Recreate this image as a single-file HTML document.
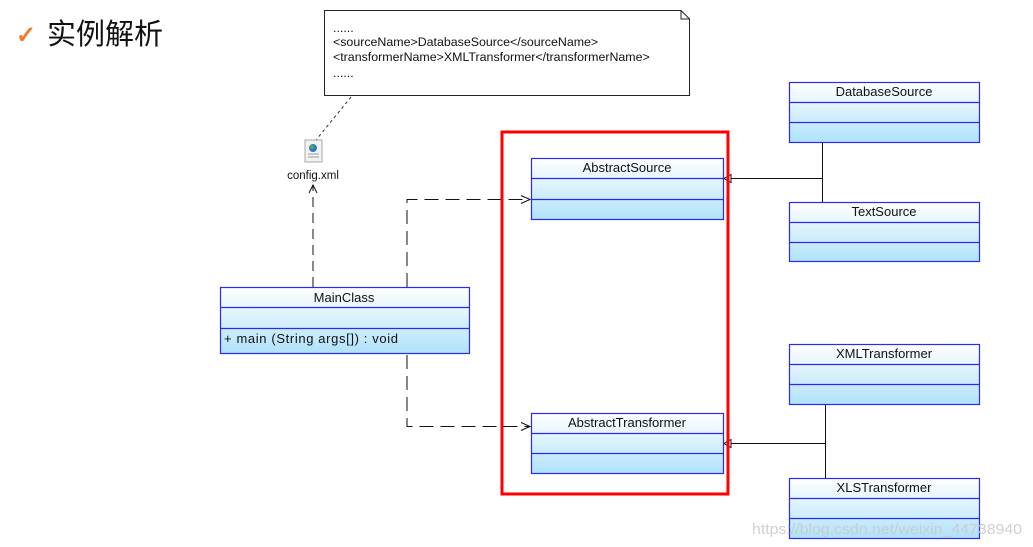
<!DOCTYPE html>
<html><head><meta charset="utf-8"><style>
html,body{margin:0;padding:0;background:#fff;}
svg{display:block;}
text{font-family:"Liberation Sans",Arial,sans-serif;}
</style></head><body>
<svg width="1033" height="547" viewBox="0 0 1033 547" xmlns="http://www.w3.org/2000/svg">
<defs>
<linearGradient id="g" x1="0" y1="0" x2="0" y2="1">
<stop offset="0" stop-color="#ffffff"/><stop offset="1" stop-color="#b0e2fa"/>
</linearGradient>
</defs>
<!-- title -->
<text x="16" y="43" font-size="24" font-weight="bold" fill="#f07a28" font-family="DejaVu Sans,sans-serif">✓</text>
<text x="47" y="44" font-size="29" fill="#111" style="font-family:'Liberation Sans','Noto Sans CJK SC',sans-serif">实例解析</text>

<!-- note -->
<path d="M324.5,10.5 H681 L689.5,19 V95.5 H324.5 Z" fill="#fff" stroke="#222" stroke-width="1"/>
<path d="M681,10.5 V19 H689.5" fill="none" stroke="#222" stroke-width="1"/>
<g font-size="12.4" fill="#111">
<text x="333" y="32">......</text>
<text x="333" y="46">&lt;sourceName&gt;DatabaseSource&lt;/sourceName&gt;</text>
<text x="333" y="61">&lt;transformerName&gt;XMLTransformer&lt;/transformerName&gt;</text>
<text x="333" y="77">......</text>
</g>
<line x1="351" y1="97" x2="316" y2="140" stroke="#333" stroke-dasharray="3,3"/>

<!-- xml icon -->
<rect x="305" y="140" width="17" height="22" fill="#f2f2f2" stroke="#aaa"/>
<circle cx="313" cy="148" r="4" fill="#2a7cc7"/>
<circle cx="312" cy="147" r="2" fill="#4caf50"/>
<line x1="308" y1="154" x2="319" y2="154" stroke="#999"/>
<line x1="308" y1="157" x2="319" y2="157" stroke="#999"/>
<text x="313" y="179" font-size="11.5" text-anchor="middle" fill="#111">config.xml</text>

<!-- dashed dependencies -->
<g stroke="#111" fill="none" stroke-width="1">
<line x1="313" y1="287" x2="313" y2="185" stroke-dasharray="10,6"/>
<path d="M309,193 L313,185 L317,193"/>
<path d="M407,287 V199.5 H530" stroke-dasharray="14,7"/>
<path d="M521,195.5 L530,199.5 L521,203.5"/>
<path d="M407,355 V426.5 H530" stroke-dasharray="14,7"/>
<path d="M521,422.5 L530,426.5 L521,430.5"/>
</g>

<!-- generalization -->
<g stroke="#111" fill="none" stroke-width="1">
<line x1="822.5" y1="143" x2="822.5" y2="202"/>
<line x1="822.5" y1="178.5" x2="731" y2="178.5"/>
<path d="M731,174.5 L724,178.5 L731,182.5 Z" fill="#fff"/>
<line x1="825.5" y1="405" x2="825.5" y2="478"/>
<line x1="825.5" y1="443.5" x2="731" y2="443.5"/>
<path d="M731,439.5 L724,443.5 L731,447.5 Z" fill="#fff"/>
</g>

<!-- classes -->
<g stroke="#2b2bf0" stroke-width="1.2" fill="url(#g)">
<rect x="220.5" y="287.5" width="249" height="66"/>
<rect x="531.5" y="158.5" width="192" height="61"/>
<rect x="531.5" y="413.5" width="192" height="60"/>
<rect x="789.5" y="82.5" width="190" height="60"/>
<rect x="789.5" y="202.5" width="190" height="59"/>
<rect x="789.5" y="344.5" width="190" height="60"/>
<rect x="789.5" y="478.5" width="190" height="60"/>
</g>
<g stroke="#2b2bf0" stroke-width="1.2">
<line x1="220" y1="307.5" x2="469" y2="307.5"/><line x1="220" y1="328.5" x2="469" y2="328.5"/>
<line x1="531" y1="178.5" x2="723" y2="178.5"/><line x1="531" y1="199.5" x2="723" y2="199.5"/>
<line x1="531" y1="433.5" x2="723" y2="433.5"/><line x1="531" y1="453.5" x2="723" y2="453.5"/>
<line x1="789" y1="102.5" x2="979" y2="102.5"/><line x1="789" y1="122.5" x2="979" y2="122.5"/>
<line x1="789" y1="222.5" x2="979" y2="222.5"/><line x1="789" y1="242.5" x2="979" y2="242.5"/>
<line x1="789" y1="364.5" x2="979" y2="364.5"/><line x1="789" y1="384.5" x2="979" y2="384.5"/>
<line x1="789" y1="498.5" x2="979" y2="498.5"/><line x1="789" y1="518.5" x2="979" y2="518.5"/>
</g>
<g font-size="13" fill="#111" text-anchor="middle">
<text x="344" y="302">MainClass</text>
<text x="627" y="172">AbstractSource</text>
<text x="627" y="427">AbstractTransformer</text>
<text x="884" y="96">DatabaseSource</text>
<text x="884" y="216">TextSource</text>
<text x="884" y="358">XMLTransformer</text>
<text x="884" y="492">XLSTransformer</text>
</g>
<text x="224" y="343" font-size="13" fill="#111" textLength="174" lengthAdjust="spacing">+  main (String args[])  : void</text>

<!-- red frame -->
<rect x="502" y="132" width="226" height="362" fill="none" stroke="#ff0000" stroke-width="3"/>

<!-- watermark -->
<text x="752" y="534" font-size="15" fill="#c8c8c8" fill-opacity="0.85" textLength="270" lengthAdjust="spacingAndGlyphs">https://blog.csdn.net/weixin_44738940</text>
</svg>
</body></html>
